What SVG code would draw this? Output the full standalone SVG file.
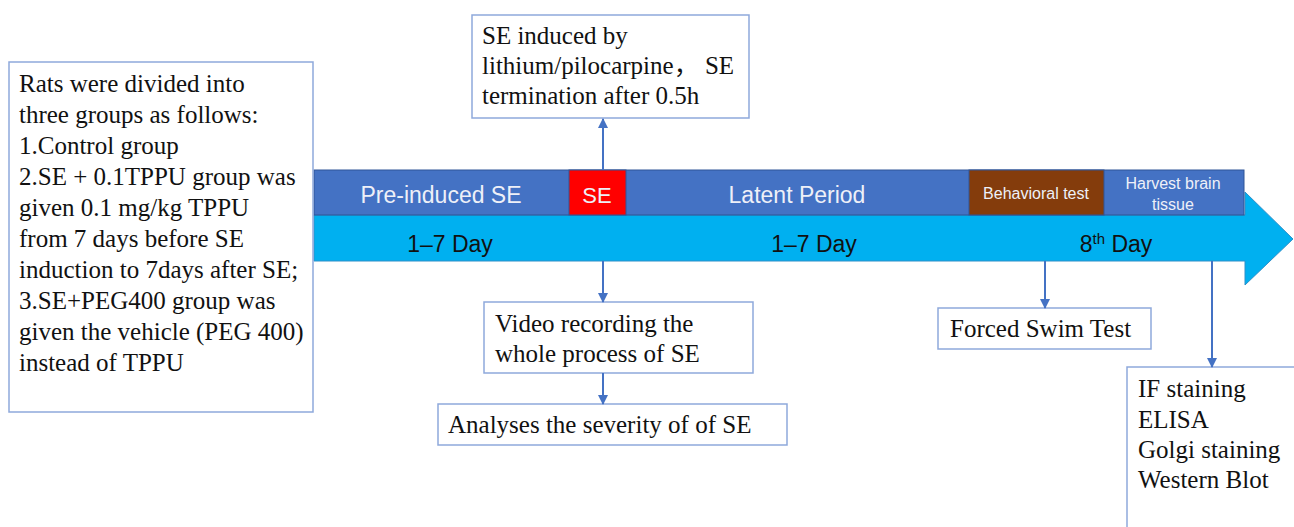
<svg xmlns="http://www.w3.org/2000/svg" width="1294" height="527" viewBox="0 0 1294 527">
<defs>
<marker id="ah" viewBox="0 0 10 10" refX="9" refY="5" markerWidth="10" markerHeight="10" markerUnits="userSpaceOnUse" orient="auto">
<path d="M0,0 L10,5 L0,10 z" fill="#4472C4"/>
</marker>
</defs>
<style>
.box{fill:#fff;stroke:#8EA9DB;stroke-width:1.5}
.t{font-family:"Liberation Serif","Times New Roman","Noto Sans CJK SC",serif;font-size:25px;fill:#111}
.bt{font-family:"Liberation Sans",Arial,sans-serif;fill:#EEF0F8}
.dt{font-family:"Liberation Sans",Arial,sans-serif;fill:#111;font-size:23px}
.c{stroke:#4472C4;stroke-width:2;fill:none;marker-end:url(#ah)}
</style>
<rect width="1294" height="527" fill="#fff"/>

<g id="timeline">
<path d="M314,215 L1245,215 L1245,192 L1293,239 L1245,285 L1245,261 L314,261 Z" fill="#00B0F0" stroke="#2F8FC8" stroke-width="1"/>
<rect x="314" y="170" width="930" height="45" fill="#4472C4" stroke="#2F5597" stroke-width="1"/>
<rect x="569" y="170" width="57" height="45" fill="#FF0000" stroke="#2F5597" stroke-width="1"/>
<rect x="969" y="170" width="135" height="45" fill="#843C0C" stroke="#2F5597" stroke-width="1"/>
<text class="bt" x="441" y="203" font-size="23" text-anchor="middle">Pre-induced SE</text>
<text class="bt" x="597" y="203" font-size="22" text-anchor="middle">SE</text>
<text class="bt" x="797" y="203" font-size="23" text-anchor="middle">Latent Period</text>
<text class="bt" x="1036" y="199" font-size="16" text-anchor="middle">Behavioral test</text>
<text class="bt" x="1173" y="189" font-size="16" text-anchor="middle">Harvest brain</text>
<text class="bt" x="1173" y="210" font-size="16" text-anchor="middle">tissue</text>
<text class="dt" x="450" y="252" text-anchor="middle">1–7 Day</text>
<text class="dt" x="814" y="252" text-anchor="middle">1–7 Day</text>
<text class="dt" x="1116" y="252" text-anchor="middle">8<tspan font-size="15" dy="-8">th</tspan><tspan dy="8"> Day</tspan></text>
</g>

<g id="groups">
<rect class="box" x="9" y="62" width="304" height="350"/>
<text class="t" font-size="25.5">
<tspan x="19" y="92">Rats were divided into</tspan>
<tspan x="19" y="123">three groups as follows:</tspan>
<tspan x="19" y="154">1.Control group</tspan>
<tspan x="19" y="185">2.SE + 0.1TPPU group was</tspan>
<tspan x="19" y="216">given 0.1 mg/kg TPPU</tspan>
<tspan x="19" y="247">from 7 days before SE</tspan>
<tspan x="19" y="278">induction to 7days after SE;</tspan>
<tspan x="19" y="309">3.SE+PEG400 group was</tspan>
<tspan x="19" y="340">given the vehicle (PEG 400)</tspan>
<tspan x="19" y="371">instead of TPPU</tspan>
</text>
</g>

<g id="induction">
<rect class="box" x="472" y="15" width="277" height="103"/>
<text class="t">
<tspan x="482" y="44">SE induced by</tspan>
<tspan x="482" y="74">lithium/pilocarpine， SE</tspan>
<tspan x="482" y="104">termination after 0.5h</tspan>
</text>
</g>

<g id="video">
<rect class="box" x="484" y="302" width="269" height="71"/>
<text class="t">
<tspan x="495" y="332">Video recording the</tspan>
<tspan x="495" y="362">whole process of SE</tspan>
</text>
</g>

<g id="analyses">
<rect class="box" x="438" y="404" width="349" height="41"/>
<text class="t" x="448" y="433">Analyses the severity of of SE</text>
</g>

<g id="fst">
<rect class="box" x="938" y="308" width="213" height="41"/>
<text class="t" x="950" y="337">Forced Swim Test</text>
</g>

<g id="assays">
<rect class="box" x="1127" y="367" width="190" height="200"/>
<text class="t">
<tspan x="1138" y="397">IF staining</tspan>
<tspan x="1138" y="428">ELISA</tspan>
<tspan x="1138" y="458">Golgi staining</tspan>
<tspan x="1138" y="488">Western Blot</tspan>
</text>
</g>

<g id="connectors">
<line class="c" x1="603" y1="170" x2="603" y2="119"/>
<line class="c" x1="603" y1="261" x2="603" y2="302"/>
<line class="c" x1="603" y1="373" x2="603" y2="404"/>
<line class="c" x1="1045" y1="261" x2="1045" y2="308"/>
<line class="c" x1="1212" y1="261" x2="1212" y2="367"/>
</g>
</svg>
